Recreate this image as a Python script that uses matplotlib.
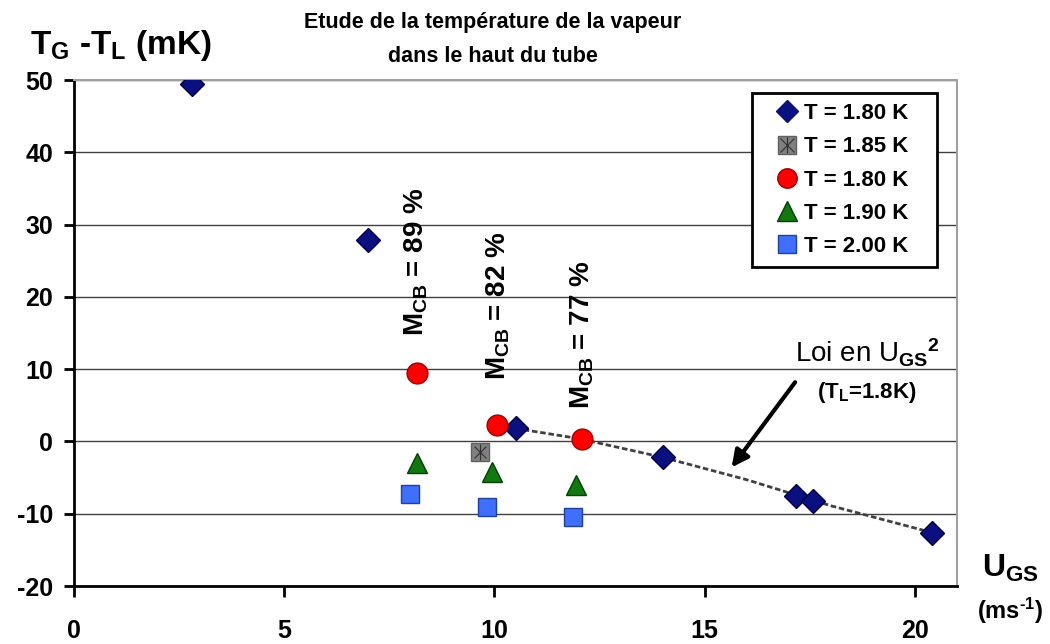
import matplotlib
matplotlib.use('Agg')
import matplotlib.pyplot as plt
from matplotlib.lines import Line2D
from matplotlib.legend_handler import HandlerTuple

plt.rcParams['font.family'] = ['Liberation Sans', 'DejaVu Sans']
plt.rcParams['font.weight'] = 'bold'
plt.rcParams['axes.unicode_minus'] = False
plt.rcParams['mathtext.fontset'] = 'custom'
plt.rcParams['mathtext.rm'] = 'Liberation Sans:bold'
plt.rcParams['mathtext.default'] = 'rm'

# T = 1.80 K (diamonds)
x_d180 = [2.8, 7.0, 10.5, 14.0, 17.17, 17.58, 20.4]
y_d180 = [49.4, 27.8, 1.8, -2.1, -7.6, -8.3, -12.6]
# T = 1.85 K
x_185 = [9.66]
y_185 = [-1.4]
# T = 1.80 K (circles)
x_c180 = [8.15, 10.07, 12.09]
y_c180 = [9.4, 2.3, 0.4]
# T = 1.90 K
x_190 = [8.15, 9.93, 11.95]
y_190 = [-3.0, -4.2, -6.0]
# T = 2.00 K
x_200 = [8.0, 9.83, 11.87]
y_200 = [-7.3, -9.1, -10.5]
# dotted U_GS^2 law
x_law = [10.5, 12.0, 14.0, 16.0, 18.0, 20.4]
y_law = [1.8, 0.4, -2.2, -5.3, -8.9, -12.6]

mcb_x = [8.13, 10.08, 12.08]
mcb_y = [24.9, 18.8, 14.8]
mcb_labels = ['89', '82', '77']

legend_labels = ['T = 1.80 K', 'T = 1.85 K', 'T = 1.80 K', 'T = 1.90 K', 'T = 2.00 K']

fig = plt.figure(figsize=(10.5, 6.44), dpi=100)
ax = fig.add_axes([74 / 1050, 1 - 586 / 644, (957 - 74) / 1050, (586 - 80) / 644])

ax.set_xlim(0, 21)
ax.set_ylim(-20, 50)
ax.set_xticks([0, 5, 10, 15, 20])
ax.set_yticks([-20, -10, 0, 10, 20, 30, 40, 50])
ax.grid(axis='y', color='#404040', linewidth=1)
ax.set_axisbelow(True)
for s in ['top', 'right']:
    ax.spines[s].set_color('#a0a0a0')
    ax.spines[s].set_linewidth(1.5)
for s in ['left', 'bottom']:
    ax.spines[s].set_linewidth(2)
ax.tick_params(axis='x', direction='out', length=8, width=2, pad=16, labelsize=18)
ax.tick_params(axis='y', direction='out', length=7, width=2, pad=8, labelsize=18)

ax.plot(x_law, y_law, linestyle=(0, (2, 1)), color='#404040', linewidth=2, zorder=2)

ax.plot(x_d180, y_d180, 'D', color='#0a1080', markeredgecolor='#000040', markersize=12, zorder=3)
ax.plot(x_185, y_185, 's', color='#808080', markeredgecolor='#606060', markersize=12.5, zorder=3)
ax.plot(x_185, y_185, 'x', color='#303030', markersize=9, markeredgewidth=0.8, zorder=4)
ax.plot(x_185, y_185, '|', color='#303030', markersize=11, markeredgewidth=0.8, zorder=4)
ax.plot(x_c180, y_c180, 'o', color='#ff0000', markeredgecolor='#a00000', markersize=15, zorder=3)
ax.plot(x_190, y_190, '^', color='#107a10', markeredgecolor='#004000', markersize=15, zorder=3)
ax.plot(x_200, y_200, 's', color='#3f6fff', markeredgecolor='#2040a0', markersize=12.5, zorder=3)

for xm, ym, lab in zip(mcb_x, mcb_y, mcb_labels):
    ax.text(xm, ym, 'M$_{CB}$ = ' + lab + ' %', rotation=90, ha='center', va='center',
            fontsize=20, fontweight='bold')

ax.annotate('', xy=(15.6, -3.9), xytext=(17.19, 8.5),
            arrowprops=dict(arrowstyle='-|>', color='black', lw=3, mutation_scale=25))
ax.text(18.86, 12.3, 'Loi en U$_{GS}$$^{2}$', ha='center', va='center', fontsize=20, fontweight='normal')
ax.text(18.85, 6.7, '(T$_{L}$=1.8K)', ha='center', va='center', fontsize=16)

h_d = Line2D([], [], marker='D', linestyle='none', color='#0a1080', markersize=11)
h_g = (Line2D([], [], marker='s', linestyle='none', color='#808080', markeredgecolor='#606060', markersize=13),
       Line2D([], [], marker='x', linestyle='none', color='#303030', markersize=10, markeredgewidth=0.8),
       Line2D([], [], marker='|', linestyle='none', color='#303030', markersize=12, markeredgewidth=0.8))
h_c = Line2D([], [], marker='o', linestyle='none', color='#ff0000', markeredgecolor='#a00000', markersize=14)
h_t = Line2D([], [], marker='^', linestyle='none', color='#107a10', markeredgecolor='#004000', markersize=14)
h_s = Line2D([], [], marker='s', linestyle='none', color='#3f6fff', markeredgecolor='#2040a0', markersize=13)
leg = ax.legend([h_d, h_g, h_c, h_t, h_s],
                [lab + '   ' for lab in legend_labels],
                handler_map={tuple: HandlerTuple(ndivide=1, pad=0)},
                loc='upper right', bbox_to_anchor=(0.9775, 0.974), fontsize=16,
                handlelength=2.2, handletextpad=-0.3, labelspacing=0.55,
                borderpad=0.45, borderaxespad=0, fancybox=False, framealpha=1)
leg.get_frame().set_edgecolor('black')
leg.get_frame().set_linewidth(2)

fig.text(0.469, 0.965, 'Etude de la température de la vapeur', ha='center', va='center', fontsize=15.5)
fig.text(0.469, 0.9115, 'dans le haut du tube', ha='center', va='center', fontsize=15.5)
fig.text(0.029, 0.93, 'T$_{G}$ -T$_{L}$ (mK)', ha='left', va='center', fontsize=24)
fig.text(0.962, 0.118, 'U$_{GS}$', ha='center', va='center', fontsize=23)
fig.text(0.962, 0.052, r'(ms$^{\text{-1}}$)', ha='center', va='center', fontsize=17)

fig.savefig('out.png', dpi=100)
